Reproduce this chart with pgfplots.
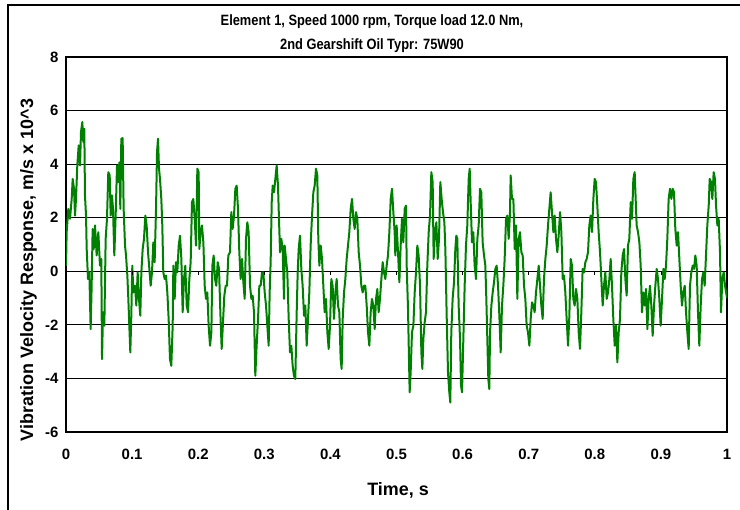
\documentclass[border=0pt]{standalone}
\usepackage{fontspec}
\setmainfont{Liberation Sans}
\newfontfamily\titlefont[FakeStretch=0.86]{Liberation Sans}
\usepackage{pgfplots}
\usepackage{pgfplotstable}
\pgfplotsset{compat=1.18}
\definecolor{sig}{RGB}{0,128,0}

% time in s, velocity in m/s x 10^3
\pgfplotstableread{
t v
0.0000 0.20
0.0010 1.46
0.0035 2.33
0.0061 1.96
0.0086 2.70
0.0101 3.45
0.0121 3.08
0.0136 2.08
0.0151 2.70
0.0171 3.95
0.0192 4.70
0.0212 3.95
0.0227 5.20
0.0247 5.57
0.0262 4.82
0.0277 5.32
0.0287 2.83
0.0303 2.08
0.0313 0.83
0.0333 -0.29
0.0353 -0.04
0.0373 -2.16
0.0388 -0.54
0.0403 1.58
0.0419 0.83
0.0439 1.71
0.0464 0.59
0.0489 1.46
0.0514 0.21
0.0534 0.46
0.0545 -3.28
0.0560 -1.53
0.0580 -2.03
0.0600 1.21
0.0620 1.96
0.0640 3.70
0.0661 3.58
0.0676 2.08
0.0696 2.83
0.0711 2.33
0.0731 0.59
0.0751 2.08
0.0772 3.95
0.0792 3.33
0.0807 4.07
0.0822 2.33
0.0837 4.95
0.0857 4.97
0.0872 2.33
0.0893 0.96
0.0908 0.59
0.0928 -0.16
0.0943 -1.03
0.0958 -2.03
0.0973 -3.03
0.0988 -1.66
0.1003 0.21
0.1019 -0.79
0.1044 -0.54
0.1064 -1.28
0.1084 -0.04
0.1104 -1.03
0.1124 -1.66
0.1140 -0.04
0.1160 0.83
0.1180 1.21
0.1200 2.08
0.1220 1.71
0.1241 0.71
0.1261 0.09
0.1281 -0.54
0.1301 -0.04
0.1321 1.08
0.1341 0.34
0.1362 2.33
0.1377 4.45
0.1392 4.95
0.1407 3.83
0.1422 3.45
0.1442 2.70
0.1457 1.71
0.1472 -0.04
0.1493 -0.29
0.1513 -0.16
0.1533 -0.79
0.1553 -1.78
0.1573 -3.28
0.1593 -3.53
0.1614 -2.03
0.1624 0.21
0.1644 -1.03
0.1664 0.34
0.1684 -0.04
0.1705 0.96
0.1725 1.33
0.1745 0.46
0.1765 -1.53
0.1785 -0.29
0.1805 0.21
0.1826 -1.28
0.1846 -1.53
0.1866 -0.29
0.1886 0.34
0.1906 2.58
0.1926 2.70
0.1947 1.96
0.1967 0.96
0.1987 3.83
0.2007 3.70
0.2017 0.83
0.2037 1.46
0.2057 1.71
0.2078 1.08
0.2098 -0.54
0.2118 -1.03
0.2138 -0.79
0.2158 -2.03
0.2179 -2.78
0.2199 -2.28
0.2214 0.21
0.2234 0.59
0.2254 -0.29
0.2274 -0.54
0.2295 0.34
0.2315 0.09
0.2335 -1.53
0.2355 -2.90
0.2375 -1.91
0.2395 -0.91
0.2416 -0.54
0.2436 -0.54
0.2456 0.59
0.2481 0.71
0.2501 2.21
0.2521 1.58
0.2542 2.08
0.2562 3.08
0.2582 3.20
0.2602 2.33
0.2622 0.71
0.2642 -0.29
0.2663 0.46
0.2683 -0.41
0.2703 -1.03
0.2723 1.21
0.2743 1.83
0.2763 1.46
0.2784 -0.54
0.2804 -1.03
0.2824 -0.91
0.2844 -1.53
0.2864 -3.90
0.2884 -2.78
0.2905 -1.78
0.2925 -0.54
0.2945 -0.54
0.2965 -0.04
0.2985 -0.04
0.3006 -0.79
0.3026 -1.28
0.3046 -2.03
0.3066 -2.78
0.3081 -0.79
0.3096 0.34
0.3112 2.58
0.3127 3.20
0.3147 2.95
0.3167 3.45
0.3187 3.95
0.3207 3.20
0.3222 1.96
0.3238 0.71
0.3258 1.21
0.3278 0.83
0.3298 -1.03
0.3308 0.96
0.3328 0.46
0.3348 -0.04
0.3369 -1.78
0.3389 -3.03
0.3409 -2.78
0.3429 -3.53
0.3449 -3.90
0.3469 -4.02
0.3490 -1.53
0.3505 -0.04
0.3520 0.83
0.3540 1.33
0.3560 0.09
0.3580 -0.54
0.3601 -1.66
0.3621 -1.28
0.3641 -2.78
0.3661 -1.78
0.3681 -0.79
0.3701 0.96
0.3722 2.08
0.3742 2.95
0.3762 3.20
0.3782 3.83
0.3802 3.58
0.3817 1.21
0.3833 0.21
0.3853 0.96
0.3873 0.46
0.3893 -0.54
0.3913 -1.53
0.3933 -1.03
0.3954 -2.28
0.3974 -2.90
0.3994 -2.03
0.4014 -0.29
0.4034 -0.54
0.4054 -1.78
0.4075 -0.79
0.4095 -0.29
0.4115 -1.28
0.4135 -1.53
0.4155 -3.28
0.4170 -3.65
0.4186 -1.78
0.4206 -0.79
0.4226 -0.29
0.4246 0.46
0.4266 0.96
0.4286 1.46
0.4307 2.33
0.4327 2.70
0.4347 1.96
0.4367 1.58
0.4387 2.21
0.4407 1.96
0.4428 0.71
0.4448 0.21
0.4468 -0.54
0.4488 -0.79
0.4508 -0.54
0.4528 -0.54
0.4549 -1.28
0.4569 -2.28
0.4589 -2.78
0.4609 -1.53
0.4629 -1.03
0.4649 -1.28
0.4670 -2.16
0.4690 -1.03
0.4710 -0.66
0.4730 -1.53
0.4750 -1.03
0.4771 -0.29
0.4791 0.34
0.4811 -0.04
0.4831 -0.29
0.4851 0.21
0.4871 0.59
0.4892 1.46
0.4912 2.70
0.4932 3.08
0.4952 2.21
0.4972 1.46
0.4982 0.59
0.5002 1.71
0.5023 0.71
0.5043 -0.41
0.5063 0.96
0.5083 1.96
0.5103 1.08
0.5124 2.33
0.5144 2.45
0.5154 0.21
0.5174 -1.41
0.5189 -3.28
0.5199 -4.52
0.5214 -3.78
0.5234 -2.28
0.5255 -2.03
0.5275 -0.79
0.5295 -0.04
0.5315 0.96
0.5335 0.59
0.5356 -0.54
0.5376 -3.03
0.5391 -3.65
0.5406 -2.53
0.5426 -1.91
0.5446 -1.53
0.5466 0.21
0.5487 1.46
0.5507 2.08
0.5527 3.70
0.5547 3.33
0.5562 0.46
0.5582 1.46
0.5603 1.83
0.5623 0.46
0.5643 1.21
0.5663 3.33
0.5683 2.70
0.5703 2.21
0.5724 1.83
0.5739 0.83
0.5759 -1.66
0.5779 -3.78
0.5799 -4.52
0.5814 -4.90
0.5829 -2.28
0.5849 -1.03
0.5870 -0.41
0.5890 0.83
0.5905 1.33
0.5920 1.21
0.5940 -1.28
0.5961 -2.53
0.5976 -4.27
0.5991 -4.52
0.6011 -2.53
0.6031 -0.54
0.6051 0.96
0.6071 1.71
0.6092 3.45
0.6107 3.83
0.6122 2.58
0.6142 1.08
0.6162 1.46
0.6182 0.21
0.6203 -0.29
0.6223 1.21
0.6243 1.71
0.6263 3.08
0.6283 2.95
0.6303 1.08
0.6324 0.59
0.6344 0.21
0.6359 -1.03
0.6374 -2.53
0.6389 -4.02
0.6404 -4.40
0.6415 -2.28
0.6435 -1.28
0.6455 -0.79
0.6475 -0.41
0.6495 0.09
0.6515 0.21
0.6536 -0.54
0.6556 -1.66
0.6576 -3.03
0.6596 -1.28
0.6616 -0.54
0.6636 0.46
0.6657 1.96
0.6677 2.08
0.6697 1.21
0.6717 2.21
0.6727 3.58
0.6747 2.70
0.6768 2.70
0.6788 0.83
0.6808 1.71
0.6828 -1.03
0.6848 1.21
0.6868 1.46
0.6889 0.71
0.6909 0.59
0.6929 -0.54
0.6949 -1.03
0.6969 -2.03
0.6989 -2.28
0.7010 -2.78
0.7030 -1.78
0.7050 -1.16
0.7070 -1.28
0.7090 -1.53
0.7110 -0.79
0.7131 -0.29
0.7151 0.21
0.7171 -0.54
0.7191 -1.28
0.7211 -1.78
0.7231 -0.29
0.7252 0.46
0.7272 0.96
0.7292 1.71
0.7312 2.33
0.7332 2.95
0.7352 2.21
0.7373 1.46
0.7393 2.08
0.7413 1.21
0.7433 0.71
0.7453 1.33
0.7474 2.21
0.7494 1.46
0.7514 -0.29
0.7534 -0.16
0.7554 -0.79
0.7574 -1.78
0.7595 -2.78
0.7615 -1.66
0.7635 0.46
0.7655 0.21
0.7675 -1.03
0.7695 -1.28
0.7716 -0.66
0.7736 -1.03
0.7756 -2.28
0.7776 -2.90
0.7796 -1.53
0.7816 0.09
0.7837 -0.04
0.7857 0.34
0.7877 0.46
0.7897 0.71
0.7917 1.71
0.7937 2.08
0.7958 1.46
0.7978 2.70
0.7998 3.45
0.8018 3.33
0.8038 2.45
0.8058 1.46
0.8079 0.71
0.8099 -0.29
0.8119 -1.28
0.8139 -0.54
0.8159 -0.04
0.8180 -1.03
0.8200 -0.79
0.8220 -0.29
0.8240 0.46
0.8260 -0.54
0.8280 -1.78
0.8301 -2.78
0.8321 -2.03
0.8341 -3.40
0.8361 -2.28
0.8381 -1.78
0.8401 -0.04
0.8422 0.59
0.8442 0.83
0.8462 -0.29
0.8482 -0.91
0.8502 0.96
0.8522 1.21
0.8543 2.58
0.8563 1.96
0.8583 3.45
0.8603 3.70
0.8618 2.70
0.8633 1.71
0.8654 1.46
0.8674 1.08
0.8694 0.21
0.8714 -1.53
0.8734 -0.79
0.8754 -1.28
0.8775 -0.66
0.8795 -2.16
0.8815 -1.03
0.8835 -0.54
0.8855 -1.28
0.8875 -2.41
0.8896 -1.28
0.8916 -0.54
0.8936 0.09
0.8956 -0.29
0.8976 -1.03
0.8996 -2.03
0.9017 -1.03
0.9037 0.09
0.9057 -0.29
0.9077 0.21
0.9097 1.21
0.9117 2.70
0.9138 3.08
0.9158 2.70
0.9178 3.08
0.9198 2.95
0.9218 1.58
0.9239 0.96
0.9259 1.46
0.9279 0.46
0.9299 -0.54
0.9319 -1.28
0.9339 -0.79
0.9360 -0.54
0.9380 -1.53
0.9400 -2.28
0.9420 -2.90
0.9440 -0.54
0.9460 -0.04
0.9481 0.21
0.9501 0.09
0.9521 0.59
0.9541 0.21
0.9561 -1.53
0.9581 -2.78
0.9602 -1.28
0.9622 -0.29
0.9642 -0.04
0.9662 -0.54
0.9682 0.59
0.9702 1.71
0.9723 2.45
0.9738 3.45
0.9758 3.33
0.9778 2.70
0.9798 3.70
0.9818 3.45
0.9834 2.45
0.9854 1.71
0.9874 1.96
0.9894 0.71
0.9909 -1.53
0.9929 -0.29
0.9950 -0.04
0.9970 -0.54
1.0000 -1.00
}\signal

\begin{document}
\begin{tikzpicture}[x=1bp,y=1bp]
\path[use as bounding box] (0,0) rectangle (740,510);
\draw[line width=1.2bp] (8,0) -- (8,505) -- (740,505);

\begin{axis}[
    at={(66bp,78bp)}, anchor=south west,
    scale only axis, width=661bp, height=375bp,
    xmin=0, xmax=1, ymin=-6, ymax=8,
    xtick={0,0.1,0.2,0.3,0.4,0.5,0.6,0.7,0.8,0.9,1},
    ytick={-6,-4,-2,0,2,4,6,8},
    ymajorgrids,
    grid style={black, line width=0.8bp},
    axis line style={line width=2.2bp},
    major tick length=0pt,
    tick label style={font=\fontsize{15}{15}\selectfont\bfseries},
    /pgf/number format/assume math mode=true,
    xticklabel style={yshift=-14bp},
    yticklabel style={xshift=-4bp},
    clip=true,
]
\addplot[sig, line width=2bp, line join=round] table[x=t, y=v] {\signal};
\pgfplotsinvokeforeach{0.1,0.2,0.3,0.4,0.5,0.6,0.7,0.8,0.9}{
  \draw[line width=0.8bp] (axis cs:#1,0) -- ([yshift=-4bp]axis cs:#1,0);
}
\end{axis}

\node[anchor=base, font=\titlefont\fontsize{15}{15}\selectfont\bfseries] at (372,484)
  {Element 1, Speed 1000 rpm, Torque load 12.0 Nm,};
\node[anchor=base, font=\titlefont\fontsize{15}{15}\selectfont\bfseries] at (372,460)
  {2nd Gearshift Oil Typr: 75W90};
\node[anchor=base, font=\fontsize{18}{18}\selectfont\bfseries] at (398,14)
  {Time, s};
\node[anchor=base, rotate=90, font=\fontsize{18}{18}\selectfont\bfseries] at (33,240)
  {Vibration Velocity Response, m/s x 10\^{}3};
\end{tikzpicture}
\end{document}
